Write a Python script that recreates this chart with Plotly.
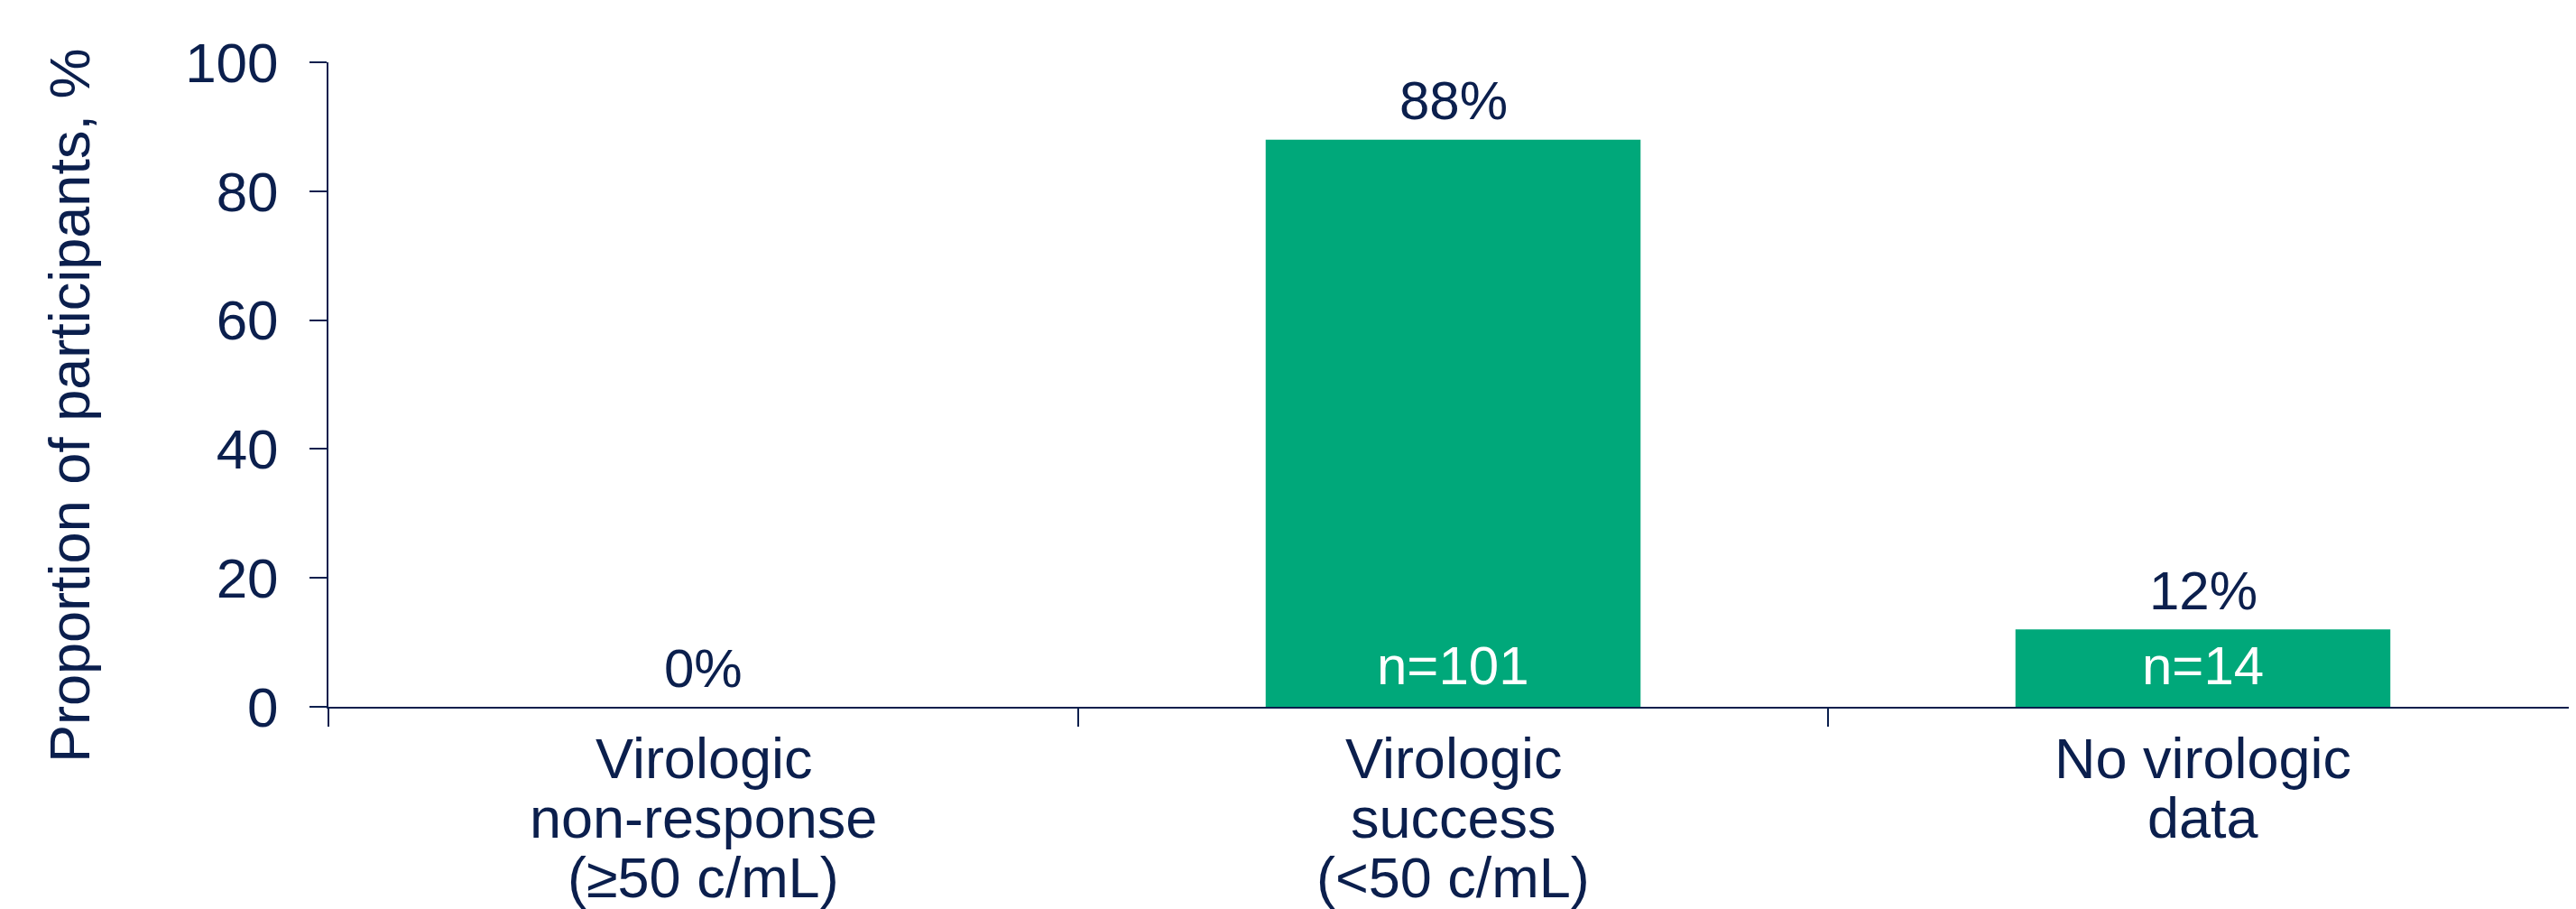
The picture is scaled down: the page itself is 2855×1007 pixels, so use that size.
import plotly.graph_objects as go

categories = ["Virologic non-response (≥50 c/mL)",
              "Virologic success (<50 c/mL)",
              "No virologic data"]
category_lines = [["Virologic", "non-response", "(≥50 c/mL)"],
                  ["Virologic", "success", "(<50 c/mL)"],
                  ["No virologic", "data"]]
values = [0, 88, 12]
pct_labels = ["0%", "88%", "12%"]
n_labels = ["", "n=101", "n=14"]
y_ticks = [0, 20, 40, 60, 80, 100]

NAVY = "#0b1f4d"
GREEN = "#00a87a"
FONT = "Liberation Sans, Arial, sans-serif"

# the page body has an 8px default margin; size the figure to fill the window
OFF = 8
W, H = 2855 - OFF, 1007 - OFF
L, T, B = 364 - OFF, 69 - OFF, 1007 - 783
PW, PH = W - L, H - T - B

fig = go.Figure()
fig.add_trace(go.Bar(x=categories, y=values,
                     marker=dict(color=GREEN, line=dict(width=0)),
                     width=0.5, hoverinfo="skip", showlegend=False))

for c, v, p, n, lines in zip(categories, values, pct_labels, n_labels, category_lines):
    fig.add_annotation(x=c, y=v, text=p, showarrow=False, yanchor="middle",
                       yshift=43, font=dict(family=FONT, size=60, color=NAVY))
    if n:
        fig.add_annotation(x=c, y=0, text=n, showarrow=False, yanchor="middle",
                           yshift=46, font=dict(family=FONT, size=60, color="white"))
    for i, line in enumerate(lines):
        fig.add_annotation(x=c, y=0, yref="paper", text=line, showarrow=False,
                           yanchor="middle", yshift=-(57 + 66 * i),
                           font=dict(family=FONT, size=63, color=NAVY))

fig.add_annotation(x=(77 - 364) / PW, y=(783 - 450) / PH, xref="paper", yref="paper",
                   text="Proportion of participants, %", textangle=-90, showarrow=False,
                   xanchor="center", yanchor="middle",
                   font=dict(family=FONT, size=63, color=NAVY))

fig.update_layout(
    width=W, height=H,
    margin=dict(l=L, r=0, t=T, b=B, autoexpand=False),
    paper_bgcolor="white", plot_bgcolor="white",
    font=dict(family=FONT, size=60, color=NAVY),
)
fig.update_xaxes(
    type="category", range=[-0.5, 2.4976], tickson="boundaries",
    ticks="outside", ticklen=20, tickwidth=2, tickcolor=NAVY,
    showticklabels=False,
    showline=True, linecolor=NAVY, linewidth=2,
    showgrid=False, zeroline=False,
)
fig.update_yaxes(
    range=[0, 100], tickvals=y_ticks,
    ticks="outside", ticklen=19, tickwidth=2, tickcolor=NAVY,
    ticklabelstandoff=22,
    showline=True, linecolor=NAVY, linewidth=2,
    showgrid=False, zeroline=False,
    tickfont=dict(family=FONT, size=62, color=NAVY),
)

fig.write_html("out.html")
